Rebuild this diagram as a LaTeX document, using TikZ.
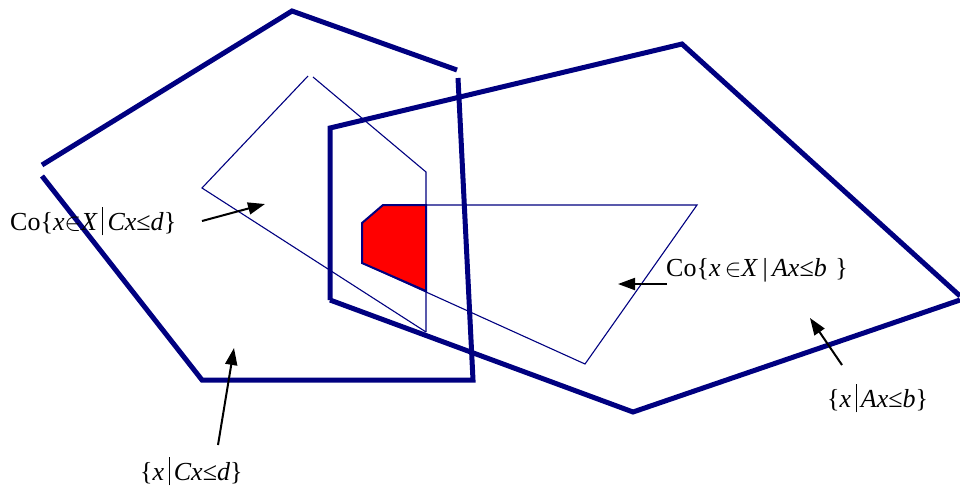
\documentclass[tikz,border=0pt]{standalone}
\usepackage{fontspec}
\setmainfont{Liberation Serif}
\usetikzlibrary{arrows.meta}
\definecolor{nv}{RGB}{0,0,128}
\tikzset{
  thickedge/.style={draw=nv,line width=5pt,line join=miter},
  thinedge/.style={draw=nv,line width=1.1pt},
  pointer/.style={draw=black,line width=2pt,-{Triangle[length=17pt,width=12pt]}},
  lbl/.style={font=\fontsize{26}{30}\selectfont,inner sep=0pt,anchor=west},
}
\newcommand{\tbar}{\raisebox{-0.18em}{\rule{1pt}{1.1em}}}
\begin{document}
\begin{tikzpicture}[x=1pt,y=-1pt]
\useasboundingbox (0,0) rectangle (960,491);
% big polygon {x | Cx<=d}
\coordinate (p1) at (42,165);
\coordinate (p2) at (292,11);
\coordinate (p3) at (457,70);
\coordinate (p4) at (458,78);
\coordinate (p5) at (473,380);
\coordinate (p6) at (202,380);
\coordinate (p7) at (42,176);
\draw[thickedge] (p1) -- (p2) -- (p3);
\draw[thickedge] (p4) -- (p5) -- (p6) -- (p7);
% big polygon {x | Ax<=b}
\coordinate (q1) at (330,300);
\coordinate (q2) at (330,128);
\coordinate (q3) at (682,44);
\coordinate (q4) at (960,296);
\coordinate (q5) at (633,412);
\coordinate (q6) at (960,300);
\draw[thickedge] (q1) -- (q2) -- (q3) -- (q4);
\draw[thickedge] (q1) -- (q5) -- (q6);
% red intersection
\coordinate (r1) at (362,223);
\coordinate (r2) at (383,205);
\coordinate (r3) at (426,205);
\coordinate (r4) at (426,291);
\coordinate (r5) at (362,263);
\filldraw[fill=red,draw=nv,line width=2pt] (r1) -- (r2) -- (r3) -- (r4) -- (r5) -- cycle;
% thin polygon Co{x in X | Cx<=d}
\coordinate (c1) at (308,76);
\coordinate (c2) at (202,188);
\coordinate (c3) at (426,332);
\coordinate (c4) at (426,172);
\coordinate (c5) at (313,77);
\draw[thinedge] (c1) -- (c2) -- (c3);
\draw[thinedge] (c5) -- (c4) -- (c3);
% thin polygon Co{x in X | Ax<=b}
\coordinate (a1) at (697,205);
\coordinate (a2) at (585,364);
\draw[thinedge] (r3) -- (a1) -- (a2) -- (r5);
% labels
\node[lbl] (L1) at (10,221) {Co\{\textit{x}$\in$\textit{X}\,\tbar\,\textit{Cx}≤\textit{d}\}};
\node[lbl] (L2) at (666,270) {Co\{\textit{x}\,$\in$\textit{X}\,|\,\textit{Ax}≤\textit{b}\,\,\}};
\node[lbl] (L3) at (827,398) {\{\textit{x}\,\tbar\,\textit{Ax}≤\textit{b}\}};
\node[lbl] (L4) at (140,471) {\{\textit{x}\,\tbar\,\textit{Cx}≤\textit{d}\}};
% pointer arrows
\coordinate (t1) at (202,221);
\coordinate (h1) at (265,204);
\coordinate (t2) at (667,284);
\coordinate (h2) at (618,284);
\coordinate (t3) at (842,365);
\coordinate (h3) at (810,318);
\coordinate (t4) at (218,445);
\coordinate (h4) at (234,348);
\draw[pointer] (t1) -- (h1);
\draw[pointer] (t2) -- (h2);
\draw[pointer] (t3) -- (h3);
\draw[pointer] (t4) -- (h4);
\end{tikzpicture}
\end{document}
